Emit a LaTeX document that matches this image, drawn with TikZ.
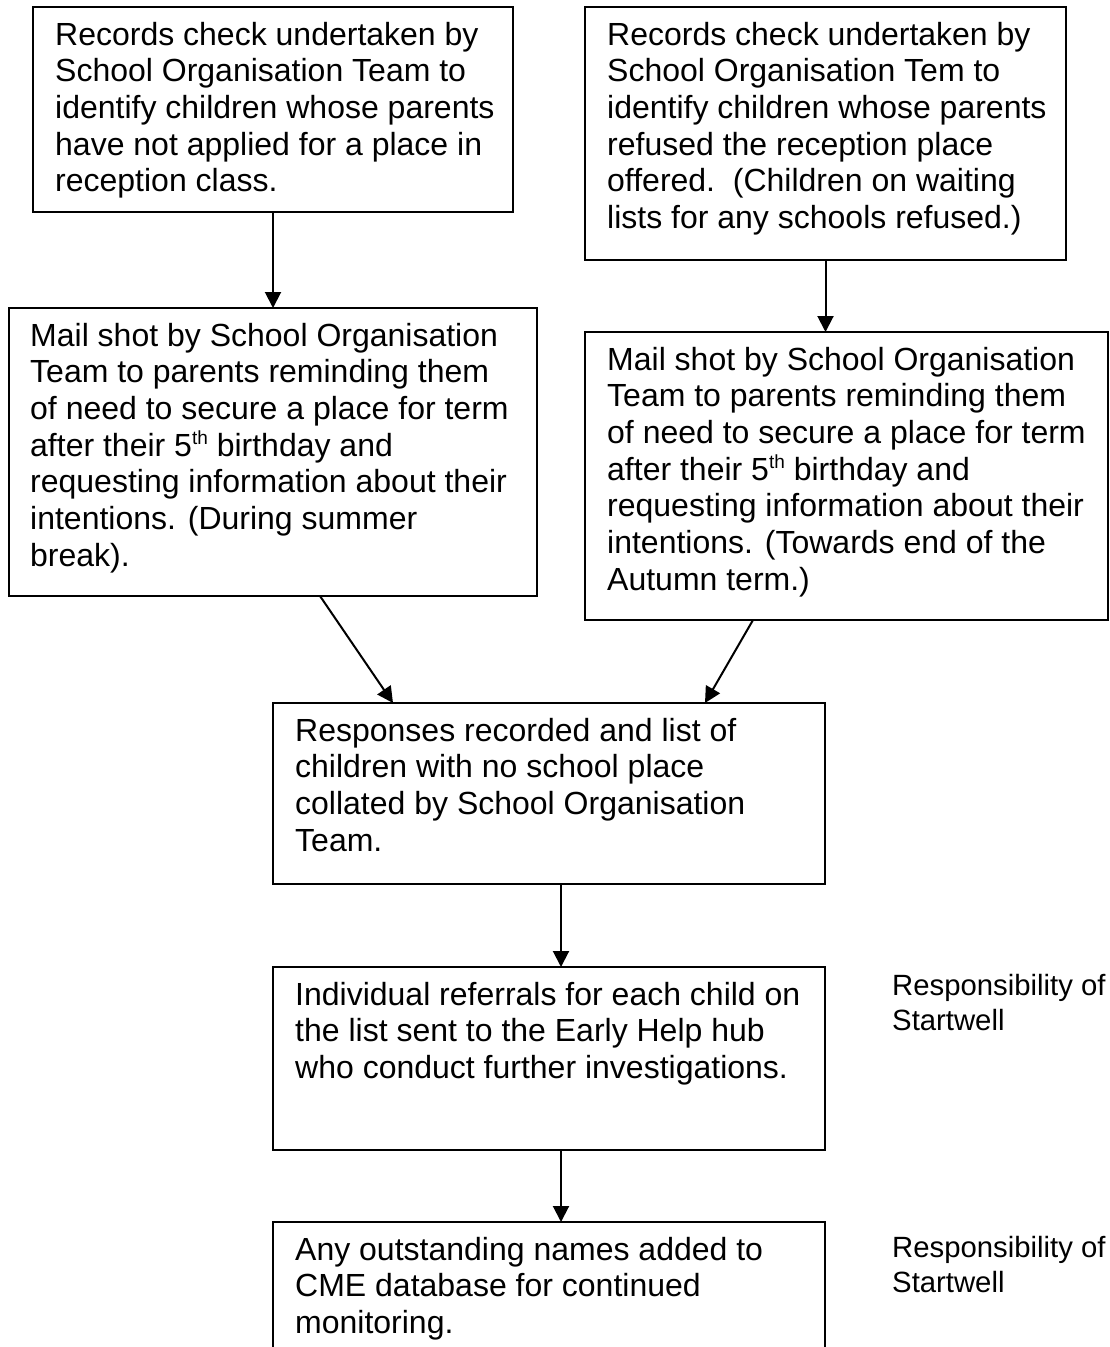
\documentclass[tikz,border=0pt]{standalone}
\usepackage{fontspec}
\setmainfont{Liberation Sans}
\usetikzlibrary{arrows.meta}
\newcommand{\ordsup}[1]{\raisebox{0.36em}{\fontsize{19}{19}\selectfont #1}}
\tikzset{
  flowbox/.style={draw, line width=2pt, inner sep=0pt, outer sep=0pt, anchor=north west},
  boxtext/.style={inner sep=0pt, anchor=north west, align=left,
    font=\fontsize{32}{36.7}\selectfont},
  sidetext/.style={inner sep=0pt, anchor=north west, align=left,
    font=\fontsize{29.3}{35}\selectfont},
  flowarrow/.style={line width=2pt, -{Triangle[length=16pt,width=16pt]}}
}
\begin{document}
\begin{tikzpicture}[x=1pt,y=-1pt]
\useasboundingbox (0,0) rectangle (1110,1347);
\clip (0,0) rectangle (1110,1347);

% boxes
\node[flowbox, minimum width=480pt, minimum height=205pt] (b1) at (33,7) {};
\node[flowbox, minimum width=481pt, minimum height=253pt] (b2) at (585,7) {};
\node[flowbox, minimum width=528pt, minimum height=288pt] (b3) at (9,308) {};
\node[flowbox, minimum width=523pt, minimum height=288pt] (b4) at (585,332) {};
\node[flowbox, minimum width=552pt, minimum height=181pt] (b5) at (273,703) {};
\node[flowbox, minimum width=552pt, minimum height=183pt] (b6) at (273,967) {};
\node[flowbox, minimum width=552pt, minimum height=200pt] (b7) at (273,1222) {};

% box texts
\node[boxtext] (t1) at ([xshift=22pt,yshift=-12.3pt]b1.north west)
  {\strut Records check undertaken by\\School Organisation Team to\\identify children whose parents\\have not applied for a place in\\reception class.};
\node[boxtext] (t2) at ([xshift=22pt,yshift=-12.3pt]b2.north west)
  {\strut Records check undertaken by\\School Organisation Tem to\\identify children whose parents\\refused the reception place\\offered.\ \ (Children on waiting\\lists for any schools refused.)};
\node[boxtext] (t3) at ([xshift=21pt,yshift=-12.3pt]b3.north west)
  {\strut Mail shot by School Organisation\\Team to parents reminding them\\of need to secure a place for term\\after their 5\ordsup{th} birthday and\\requesting information about their\\intentions. (During summer\\break).};
\node[boxtext] (t4) at ([xshift=22pt,yshift=-12.3pt]b4.north west)
  {\strut Mail shot by School Organisation\\Team to parents reminding them\\of need to secure a place for term\\after their 5\ordsup{th} birthday and\\requesting information about their\\intentions. (Towards end of the\\Autumn term.)};
\node[boxtext] (t5) at ([xshift=22pt,yshift=-12.3pt]b5.north west)
  {\strut Responses recorded and list of\\children with no school place\\collated by School Organisation\\Team.};
\node[boxtext] (t6) at ([xshift=22pt,yshift=-12.3pt]b6.north west)
  {\strut Individual referrals for each child on\\the list sent to the Early Help hub\\who conduct further investigations.};
\node[boxtext] (t7) at ([xshift=22pt,yshift=-12.3pt]b7.north west)
  {\strut Any outstanding names added to\\CME database for continued\\monitoring.};

% side notes
\node[sidetext] (s6) at (892,971) {\strut Responsibility of\\Startwell};
\node[sidetext] (s7) at (892,1233) {\strut Responsibility of\\Startwell};

% connectors
\draw[flowarrow] (b1.south) -- (b3.north);
\draw[flowarrow] (b2.south) -- (b2.south |- b4.north);
\draw[flowarrow] ([xshift=311pt]b3.south west) -- ([xshift=120pt]b5.north west);
\draw[flowarrow] ([xshift=168pt]b4.south west) -- ([xshift=432pt]b5.north west);
\draw[flowarrow] ([xshift=288pt]b5.south west) -- ([xshift=288pt]b6.north west);
\draw[flowarrow] ([xshift=288pt]b6.south west) -- ([xshift=288pt]b7.north west);
\end{tikzpicture}
\end{document}
